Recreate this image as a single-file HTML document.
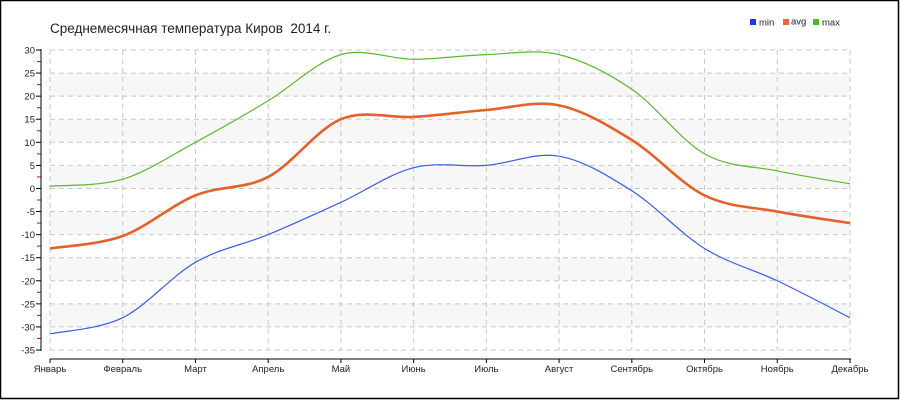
<!DOCTYPE html>
<html><head><meta charset="utf-8"><style>
html,body{margin:0;padding:0;background:#fff}
svg{display:block}
text{font-family:"Liberation Sans","DejaVu Sans",sans-serif}
</style></head><body>
<svg id="c" width="900" height="400" xmlns="http://www.w3.org/2000/svg">
<rect x="0.5" y="0.5" width="898" height="398" fill="#fff" stroke="#000" stroke-width="1.5"/>
<text x="50" y="33" font-size="13.5" fill="#222">Среднемесячная температура Киров&#160; 2014 г.</text>
<rect x="750" y="19" width="6" height="6" fill="#1a3fe0"/><text x="759" y="25.5" font-size="9.5" fill="#222">min</text>
<rect x="783" y="19" width="6" height="6" fill="#ea6a2e"/><text x="791" y="24.5" font-size="9.5" fill="#222">avg</text>
<rect x="813" y="19" width="6" height="6" fill="#4fb820"/><text x="822" y="25.5" font-size="9.5" fill="#222">max</text>
<g id="g"></g>
</svg>
<script>
var g=document.getElementById('g'),s='';
function Y(v){return 50+(30-v)*300/65;}
var xs=[];for(var i=0;i<12;i++)xs.push(50+i*800/11);
for(var v=25;v>-35;v-=10){s+='<rect x="50" y="'+Y(v)+'" width="800" height="'+(Y(v-5)-Y(v))+'" fill="#f7f7f7"/>';}
for(var v=30;v>=-35;v-=5){var y=Y(v);s+='<line x1="50" x2="850" y1="'+y+'" y2="'+y+'" stroke="#c8c8c8" stroke-dasharray="5,4"/>';
s+='<line x1="36" x2="41" y1="'+y+'" y2="'+y+'" stroke="#000"/>';
s+='<text x="35" y="'+(y+3.5)+'" font-size="9.5" text-anchor="end" fill="#222">'+v+'</text>';
if(v>-35){var ym=Y(v-2.5);s+='<line x1="37" x2="41" y1="'+ym+'" y2="'+ym+'" stroke="#e00"/>';}}
var M=['Январь','Февраль','Март','Апрель','Май','Июнь','Июль','Август','Сентябрь','Октябрь','Ноябрь','Декабрь'];
for(var i=0;i<12;i++){var x=xs[i];s+='<line x1="'+x+'" x2="'+x+'" y1="50" y2="350" stroke="#c8c8c8" stroke-dasharray="5,4"/>';
s+='<line x1="'+x+'" x2="'+x+'" y1="359" y2="363" stroke="#000"/>';
s+='<text x="'+x+'" y="372" font-size="9.5" text-anchor="middle" fill="#222">'+M[i]+'</text>';}
s+='<line x1="41" x2="41" y1="49" y2="351" stroke="#000"/>';
s+='<line x1="50" x2="851" y1="359" y2="359" stroke="#000"/>';
function path(d){var p=d.map(function(v,i){return [xs[i],Y(v)];});var o='M'+p[0][0]+','+p[0][1];
for(var i=0;i<p.length-1;i++){var p0=p[i-1]||p[i],p1=p[i],p2=p[i+1],p3=p[i+2]||p2;
o+=' C'+(p1[0]+(p2[0]-p0[0])/6)+','+(p1[1]+(p2[1]-p0[1])/6)+' '+(p2[0]-(p3[0]-p1[0])/6)+','+(p2[1]-(p3[1]-p1[1])/6)+' '+p2[0]+','+p2[1];}return o;}
var mn=[-31.5,-28,-16,-10,-3,4.5,5,7,-0.5,-13,-20,-28];
var av=[-13,-10.3,-1.5,2.5,15,15.5,17,18,10.5,-1.5,-5,-7.5];
var mx=[0.5,2,10,19,29,28,29,29,21.5,7.5,3.8,1];
s+='<path d="'+path(mn)+'" fill="none" stroke="#3a5ee6" stroke-width="1.2"/>';
s+='<path d="'+path(mx)+'" fill="none" stroke="#5cb82e" stroke-width="1.2"/>';
s+='<path d="'+path(av)+'" fill="none" stroke="#e2622a" stroke-width="2.6"/>';
g.innerHTML=s;
</script>
</body></html>
